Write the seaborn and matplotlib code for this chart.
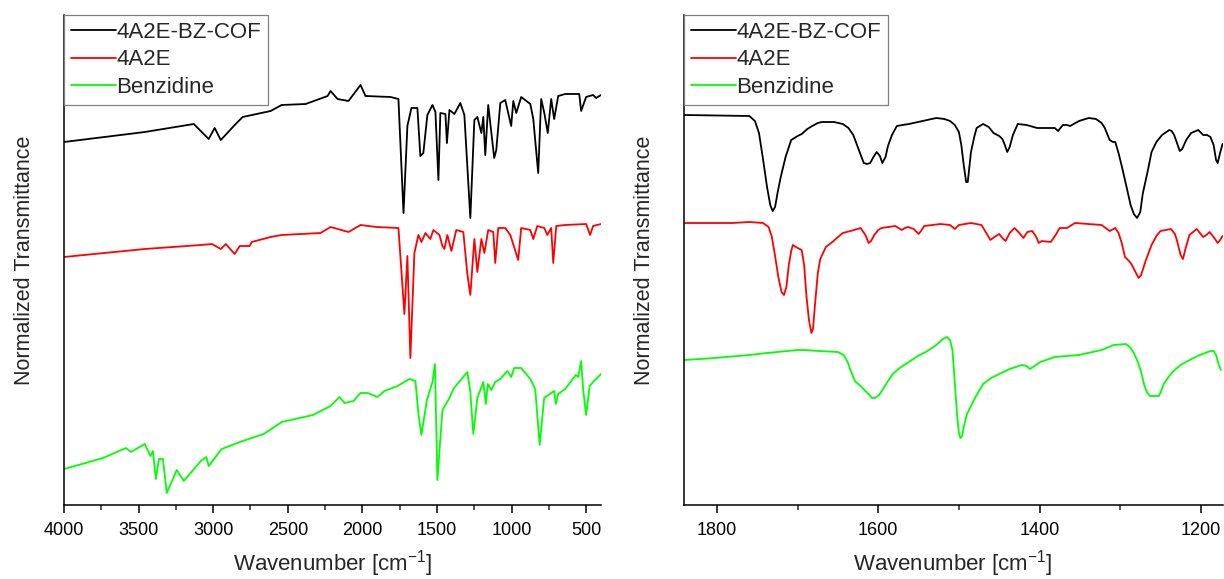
import matplotlib
matplotlib.use("Agg")
import matplotlib.pyplot as plt
import numpy as np
import pandas as pd
import seaborn as sns
from matplotlib.ticker import MultipleLocator

# ---- full range spectra (4000-400 cm-1), values in arbitrary offset units ----
cof_wn = [4000, 3458, 3130, 3030, 2990, 2949, 2849, 2802, 2615, 2541, 2380, 2233, 2213, 2166,
          2093, 2012, 1979, 1811, 1758, 1724, 1698, 1671, 1631, 1611, 1591, 1564, 1530, 1510,
          1490, 1477, 1443, 1433, 1416, 1383, 1343, 1316, 1276, 1249, 1229, 1202, 1189, 1176,
          1156, 1116, 1102, 1075, 1042, 1002, 988, 968, 935, 874, 854, 821, 801, 780, 757, 734,
          714, 687, 640, 546, 533, 500, 453, 433, 400]
cof_t = [363, 373, 381, 366, 377, 365, 381, 388, 394, 400, 401, 409, 414, 406,
         404, 420, 409, 408, 406, 292, 379, 397, 397, 349, 352, 390, 400, 393,
         325, 392, 391, 362, 395, 391, 402, 390, 287, 385, 388, 372, 388, 350,
         400, 347, 355, 402, 405, 379, 404, 392, 408, 401, 386, 332, 406, 392, 372, 406,
         386, 409, 411, 411, 394, 408, 410, 407, 410]

a2e_wn = [4000, 3458, 3083, 3009, 2949, 2915, 2856, 2822, 2755, 2742, 2615, 2541, 2280, 2213,
          2093, 2012, 1905, 1758, 1718, 1698, 1678, 1651, 1624, 1604, 1577, 1544, 1524, 1483,
          1463, 1450, 1430, 1403, 1370, 1323, 1296, 1276, 1249, 1229, 1202, 1182, 1156, 1122,
          1109, 1089, 1042, 1008, 955, 935, 874, 854, 827, 780, 760, 734, 720, 700, 640, 500,
          473, 453, 400]
a2e_t = [248, 256, 260, 261, 256, 261, 251, 259, 259, 263, 268, 270, 272, 278,
         273, 280, 278, 277, 191, 249, 147, 252, 270, 263, 272, 266, 275, 270,
         259, 256, 270, 254, 275, 273, 231, 210, 266, 233, 266, 252, 275, 273,
         242, 277, 277, 270, 245, 277, 275, 266, 279, 277, 270, 277, 242, 279, 280, 281,
         270, 279, 281]

bz_wn = [4000, 3856, 3739, 3585, 3552, 3458, 3421, 3404, 3384, 3364, 3337, 3311, 3244, 3197,
         3083, 3046, 3030, 2943, 2802, 2661, 2541, 2330, 2213, 2153, 2119, 2059, 2012, 1965,
         1898, 1852, 1764, 1684, 1644, 1624, 1604, 1567, 1530, 1513, 1497, 1463, 1416, 1390,
         1296, 1276, 1256, 1229, 1189, 1172, 1159, 1135, 1109, 1075, 1028, 1002, 982, 935,
         874, 841, 811, 781, 734, 714, 703, 687, 640, 569, 553, 533, 520, 500, 476, 453, 400]
bz_t = [36, 42, 47, 57, 53, 61, 49, 54, 26, 46, 46, 12, 35, 24,
        44, 48, 39, 56, 64, 71, 83, 90, 99, 108, 102, 104, 112, 112,
        108, 114, 119, 126, 124, 91, 70, 105, 123, 141, 25, 95, 107, 116,
        133, 113, 71, 107, 123, 101, 121, 115, 123, 126, 134, 128, 137, 137,
        126, 116, 60, 107, 112, 114, 101, 111, 116, 130, 128, 144, 116, 90, 119, 123, 131]

# ---- zoomed region (1840-1173 cm-1) ----
cof_z_wn = [1840, 1760, 1753, 1748, 1743, 1738, 1734, 1731, 1728, 1725, 1721, 1715, 1708, 1700,
            1695, 1688, 1682, 1675, 1670, 1655, 1644, 1637, 1631, 1625, 1618, 1614, 1610, 1606,
            1602, 1598, 1595, 1591, 1588, 1583, 1577, 1570, 1562, 1545, 1528, 1518, 1511, 1505,
            1500, 1497, 1494, 1491, 1489, 1487, 1485, 1481, 1478, 1470, 1463, 1457, 1450, 1446,
            1443, 1440, 1437, 1433, 1427, 1416, 1403, 1381, 1377, 1371, 1366, 1362, 1351, 1339,
            1330, 1323, 1319, 1313, 1309, 1306, 1302, 1298, 1292, 1287, 1283, 1279, 1275, 1272,
            1266, 1261, 1255, 1248, 1239, 1236, 1233, 1229, 1226, 1223, 1218, 1212, 1203, 1197,
            1192, 1188, 1184, 1181, 1179, 1176, 1173]
cof_z_t = [390, 389, 384, 372, 346, 318, 300, 294, 298, 312, 328, 348, 365, 369,
           371, 376, 379, 382, 383, 383, 381, 377, 370, 357, 342, 341, 342, 348,
           353, 349, 342, 348, 359, 370, 379, 380, 381, 384, 387, 386, 384, 380,
           373, 360, 340, 323, 323, 338, 353, 368, 377, 381, 378, 372, 369, 366,
           360, 353, 358, 370, 381, 380, 377, 377, 374, 380, 380, 379, 384, 387,
           386, 382, 377, 365, 363, 363, 352, 339, 318, 300, 291, 287, 293, 311,
           333, 353, 363, 370, 375, 374, 370, 361, 354, 356, 365, 372, 375, 370,
           370, 368, 360, 345, 342, 352, 361]

a2e_z_wn = [1840, 1781, 1760, 1743, 1736, 1732, 1728, 1724, 1720, 1717, 1714, 1711, 1708, 1706,
            1700, 1695, 1692, 1689, 1686, 1683, 1681, 1678, 1675, 1672, 1665, 1657, 1650, 1644,
            1630, 1622, 1616, 1612, 1609, 1605, 1600, 1596, 1579, 1571, 1567, 1563, 1556, 1550,
            1547, 1543, 1523, 1511, 1505, 1500, 1485, 1472, 1466, 1461, 1456, 1450, 1445, 1442,
            1437, 1431, 1425, 1420, 1415, 1409, 1404, 1401, 1397, 1386, 1380, 1375, 1366, 1356,
            1323, 1313, 1306, 1302, 1298, 1294, 1289, 1286, 1281, 1277, 1274, 1268, 1261, 1255,
            1250, 1237, 1232, 1229, 1225, 1222, 1219, 1214, 1205, 1197, 1193, 1189, 1184, 1179,
            1176, 1173]
a2e_z_t = [282, 282, 283, 282, 278, 268, 249, 228, 213, 210, 218, 240, 254, 260,
           257, 255, 240, 208, 185, 172, 176, 205, 232, 246, 258, 263, 268, 272,
           275, 277, 270, 262, 264, 270, 275, 277, 279, 275, 277, 278, 276, 271,
           274, 279, 281, 280, 276, 280, 282, 280, 272, 265, 268, 271, 266, 264,
           272, 277, 272, 267, 273, 274, 268, 262, 264, 263, 270, 277, 277, 282,
           280, 274, 277, 272, 262, 248, 244, 241, 233, 227, 230, 245, 260, 269,
           274, 276, 271, 263, 250, 246, 256, 270, 276, 268, 270, 273, 268, 262,
           265, 269]

bz_z_wn = [1840, 1803, 1760, 1738, 1700, 1691, 1674, 1650, 1643, 1638, 1635, 1629, 1622, 1616,
           1612, 1608, 1604, 1599, 1594, 1588, 1582, 1575, 1568, 1562, 1551, 1541, 1528, 1520,
           1515, 1511, 1508, 1506, 1504, 1502, 1500, 1498, 1496, 1494, 1490, 1485, 1480, 1470,
           1460, 1450, 1437, 1422, 1416, 1412, 1408, 1399, 1381, 1351, 1323, 1308, 1293, 1288,
           1283, 1278, 1274, 1270, 1267, 1263, 1257, 1252, 1249, 1246, 1240, 1235, 1225, 1216,
           1209, 1201, 1188, 1184, 1181, 1178, 1175]
bz_z_t = [145, 147, 150, 152, 155, 155, 154, 153, 150, 143, 136, 124, 119, 114,
          111, 107, 107, 110, 116, 124, 131, 136, 140, 143, 149, 153, 160, 166,
          168, 165, 155, 133, 110, 88, 72, 67, 69, 78, 91, 99, 107, 121,
          127, 131, 136, 140, 139, 136, 138, 143, 148, 150, 155, 160, 161, 158,
          152, 143, 133, 120, 113, 109, 109, 109, 114, 121, 128, 133, 140, 144,
          147, 150, 154, 154, 150, 141, 135]

names = ["4A2E-BZ-COF", "4A2E", "Benzidine"]
colors = ["#000000", "#FF0000", "#00FF00"]

sns.set_style("ticks")
plt.rcParams["font.family"] = ["Liberation Sans", "DejaVu Sans"]
plt.rcParams["mathtext.default"] = "regular"

fig = plt.figure(figsize=(12.24, 5.79), dpi=100)
W, H = 1224, 579
ax1 = fig.add_axes([64 / W, 74 / H, 537 / W, 490 / H])
ax2 = fig.add_axes([684 / W, 74 / H, 538.5 / W, 490 / H])

full = [(cof_wn, cof_t), (a2e_wn, a2e_t), (bz_wn, bz_t)]
zoom = [(cof_z_wn, cof_z_t), (a2e_z_wn, a2e_z_t), (bz_z_wn, bz_z_t)]

for ax, sets, xlim, major, minor in [
    (ax1, full, (4000, 400), 500, 250),
    (ax2, zoom, (1841, 1173), 200, 100),
]:
    for (wn, t), name, c in zip(sets, names, colors):
        df = pd.DataFrame({"wn": wn, "t": t})
        sns.lineplot(data=df, x="wn", y="t", ax=ax, color=c, lw=1.3,
                     label=name, sort=False, estimator=None)
    ax.set_xlim(*xlim)
    ax.set_ylim(0, 490)
    ax.xaxis.set_major_locator(MultipleLocator(major))
    ax.xaxis.set_minor_locator(MultipleLocator(minor))
    ax.set_yticks([])
    for s in ["top", "right"]:
        ax.spines[s].set_visible(False)
    for s in ["left", "bottom"]:
        ax.spines[s].set_linewidth(1.1)
        ax.spines[s].set_color("black")
    ax.tick_params(axis="x", which="major", direction="out", length=6, width=1.1,
                   labelsize=13, pad=6, colors="black")
    ax.tick_params(axis="x", which="minor", direction="out", length=3.5, width=1.1)
    ax.set_xlabel("Wavenumber [cm$^{-1}$]", fontsize=16, labelpad=7)
    ax.set_ylabel("Normalized Transmittance", fontsize=15.5, labelpad=21)
    leg = ax.legend(loc="upper left", bbox_to_anchor=(0, 1), borderaxespad=0,
                    fontsize=16, handlelength=2.05, handletextpad=0.0,
                    borderpad=0.3, labelspacing=0.3, fancybox=False,
                    frameon=True, framealpha=1)
    leg.get_frame().set_edgecolor("#808080")
    leg.get_frame().set_linewidth(0.9)
    for h in leg.get_lines():
        h.set_linewidth(1.3)

fig.savefig("out.png", dpi=100)
